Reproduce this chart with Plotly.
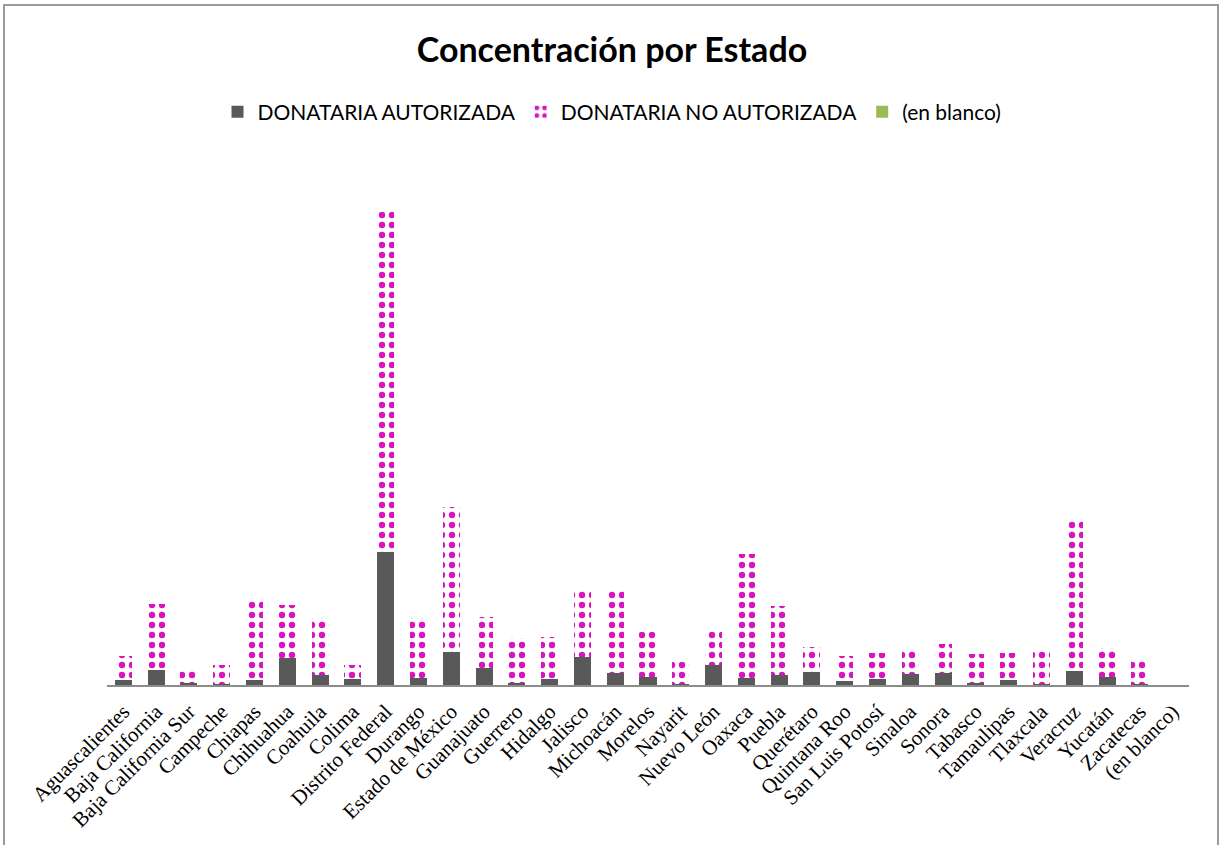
import plotly.graph_objects as go

# States and their donee counts (stacked: authorized + not authorized)
estados = [
    "Aguascalientes", "Baja California", "Baja California Sur", "Campeche",
    "Chiapas", "Chihuahua", "Coahuila", "Colima", "Distrito Federal",
    "Durango", "Estado de México", "Guanajuato", "Guerrero", "Hidalgo",
    "Jalisco", "Michoacán", "Morelos", "Nayarit", "Nuevo León", "Oaxaca",
    "Puebla", "Querétaro", "Quintana Roo", "San Luis Potosí", "Sinaloa",
    "Sonora", "Tabasco", "Tamaulipas", "Tlaxcala", "Veracruz", "Yucatán",
    "Zacatecas", "(en blanco)",
]

autorizada = [
    5, 15, 2, 1, 5, 27, 10, 6, 133, 7, 33, 17, 2, 6, 28, 12, 8, 1, 20, 7,
    10, 13, 4, 6, 11, 12, 2, 5, 1, 14, 8, 1, 0,
]

no_autorizada_total = [
    29, 81, 14, 20, 87, 80, 67, 20, 473, 67, 178, 68, 47, 48, 95, 95, 53,
    23, 53, 131, 79, 38, 29, 32, 36, 41, 31, 32, 35, 164, 37, 25, 0,
]
no_autorizada = [t - a for t, a in zip(no_autorizada_total, autorizada)]

en_blanco = [0] * len(estados)
n = len(estados)

fig = go.Figure()
fig.add_trace(go.Bar(
    x=estados, y=autorizada, name="DONATARIA AUTORIZADA",
    marker=dict(color="#595959", line=dict(width=0)),
))
fig.add_trace(go.Bar(
    x=estados, y=no_autorizada, name="DONATARIA NO AUTORIZADA",
    marker=dict(
        color="white", line=dict(width=0),
        pattern=dict(shape=".", fgcolor="#D814C0", bgcolor="white",
                     fgopacity=1, size=10, solidity=0.32),
    ),
))
fig.add_trace(go.Bar(
    x=estados, y=en_blanco, name="(en blanco)",
    marker=dict(color="#9BBB59", line=dict(width=0)),
))

L, R, T, B = 107, 31, 160, 160
W, H = 1220, 845
pw, ph = W - L - R, H - T - B

def px(x):
    return (x - L) / pw

def py(y):
    return (H - B - y) / ph

fig.update_layout(
    width=W, height=H,
    margin=dict(l=L, r=R, t=T, b=B, autoexpand=False),
    barmode="stack", bargap=0.48,
    paper_bgcolor="white", plot_bgcolor="white",
    title=dict(
        text="<b>Concentración por Estado</b>",
        x=612 / W, xanchor="center", xref="container",
        y=1 - 50 / H, yanchor="middle", yref="container",
        font=dict(family="Lato, Carlito, Arial", size=34, color="black"),
    ),
    legend=dict(
        orientation="h", x=612 / W, xanchor="center", xref="container",
        y=1 - 112 / H, yanchor="middle", yref="container",
        font=dict(family="Lato, Carlito, Arial", size=21, color="black"),
        itemwidth=30, traceorder="normal",
    ),
    showlegend=True,
    xaxis=dict(
        type="category", range=[-0.5, n - 0.5], automargin=False,
        showline=True, linecolor="#8c8c8c", linewidth=2,
        ticks="", tickangle=-45, showgrid=False, ticklabelstandoff=4,
        tickfont=dict(family="Liberation Serif, Times New Roman, serif",
                      size=21, color="black"),
    ),
    yaxis=dict(visible=False, range=[0, 525], showgrid=False,
               automargin=False),
    shapes=[dict(
        type="rect", xref="paper", yref="paper",
        x0=px(4), x1=px(1218), y0=py(870), y1=py(5),
        line=dict(color="#9a9a9a", width=2), fillcolor="rgba(0,0,0,0)",
        layer="below",
    )],
)

fig.write_html("out.html")
